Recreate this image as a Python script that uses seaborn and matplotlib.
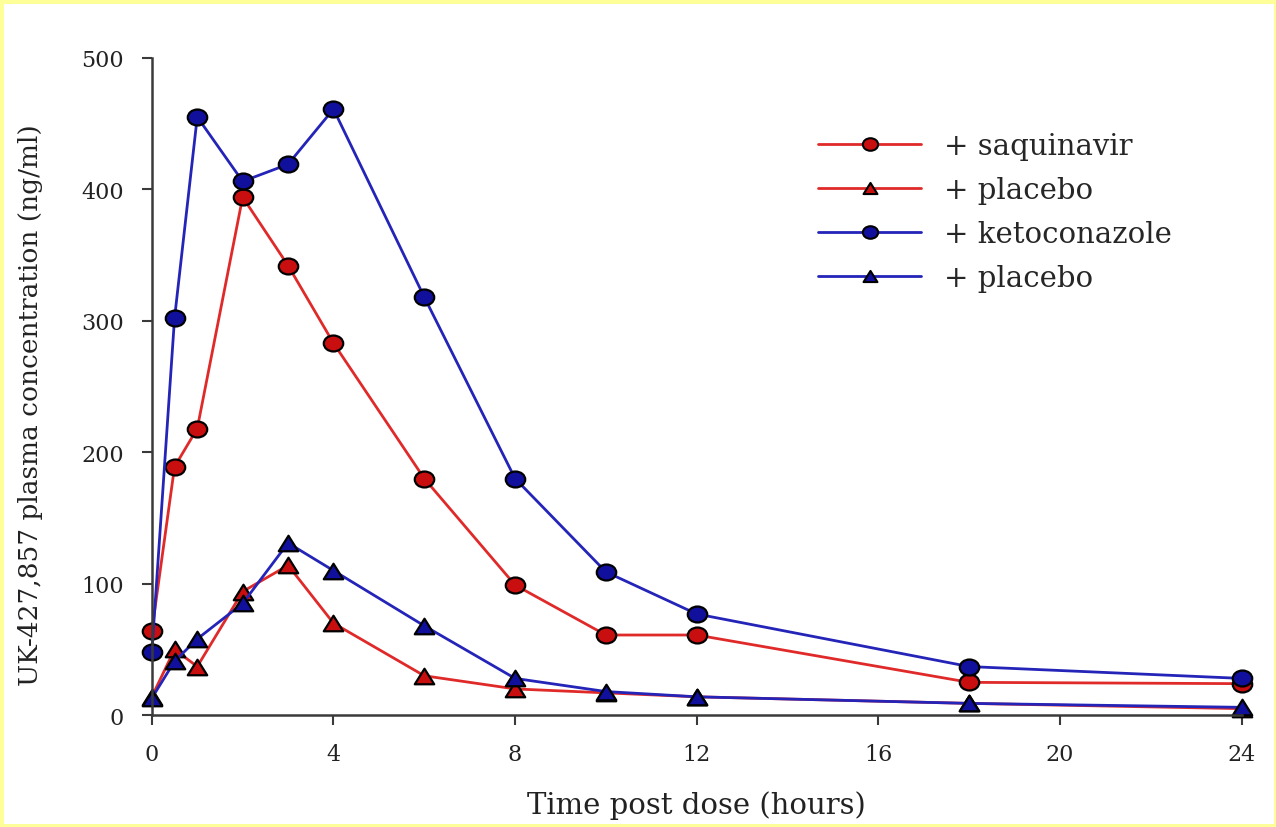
import matplotlib
matplotlib.use("Agg")
import matplotlib.pyplot as plt
import seaborn as sns
import pandas as pd
from matplotlib.lines import Line2D
from matplotlib.patches import Rectangle
from matplotlib.path import Path
from matplotlib.transforms import Affine2D

# time points (hours)
hours = [0, 0.5, 1, 2, 3, 4, 6, 8, 10, 12, 18, 24]

# plasma concentrations (ng/ml)
saquinavir = [64, 189, 218, 394, 342, 283, 180, 99, 61, 61, 25, 24]
placebo_saq = [14, 50, 37, 94, 114, 70, 30, 20, 17, 14, 9, 5]
ketoconazole = [48, 302, 455, 406, 419, 461, 318, 180, 109, 77, 37, 28]
placebo_keto = [13, 41, 58, 85, 131, 110, 68, 28, 18, 14, 9, 6]

labels = ['+ saquinavir', '+ placebo', '+ ketoconazole', '+ placebo ']
series = [saquinavir, placebo_saq, ketoconazole, placebo_keto]
line_colors = ['#e02a2a', '#e02a2a', '#2424b8', '#2424b8']
fill_colors = ['#c80e0e', '#c80e0e', '#10109c', '#10109c']

# slightly wide markers, like the original (stretched) figure
ellipse = Path.unit_circle().transformed(Affine2D().scale(1.0, 0.82))
triangle = Path([(0, 0.8), (-1, -0.8), (1, -0.8), (0, 0.8)],
                [Path.MOVETO, Path.LINETO, Path.LINETO, Path.CLOSEPOLY])
markers = [ellipse, triangle, ellipse, triangle]

sns.set_style("white")
plt.rcParams['font.family'] = ['DejaVu Serif']

fig = plt.figure(figsize=(12.76, 8.28), dpi=100)
fig.patch.set_facecolor('#ffff99')
fig.patches.append(Rectangle((4 / 1276, 3 / 828), 1 - 6 / 1276, 1 - 8 / 828,
                             transform=fig.transFigure, facecolor='white',
                             edgecolor='none', zorder=-10))
ax = fig.add_axes([0.119, 0.135, 0.854, 0.794])
ax.set_facecolor('none')

for vals, lc, fc, mk in zip(series, line_colors, fill_colors, markers):
    df = pd.DataFrame({'hours': hours, 'conc': vals})
    sns.lineplot(data=df, x='hours', y='conc', ax=ax, color=lc, linewidth=2.0,
                 marker=mk, markersize=14, markerfacecolor=fc,
                 markeredgecolor='black', markeredgewidth=1.6, clip_on=False)

ax.set_xlim(0, 24)
ax.set_ylim(0, 500)
ax.set_xticks([0, 4, 8, 12, 16, 20, 24])
ax.set_yticks([0, 100, 200, 300, 400, 500])
for s in ['top', 'right']:
    ax.spines[s].set_visible(False)
for s in ['left', 'bottom']:
    ax.spines[s].set_color('#3a3a3a')
    ax.spines[s].set_linewidth(1.8)
ax.tick_params(axis='both', direction='out', length=7, width=1.5, color='#3a3a3a',
               bottom=True, left=True, labelsize=16, pad=13, labelcolor='#222222')

ax.set_xlabel('Time post dose (hours)', fontsize=21, labelpad=18, color='#222222')
ax.set_ylabel('UK-427,857 plasma concentration (ng/ml)', fontsize=19,
              color='#222222')
ax.yaxis.set_label_coords(-0.100, 0.473)

handles = [Line2D([0], [0], color=lc, linewidth=2.0, marker=mk,
                  markersize=11 if mk is ellipse else 10, markerfacecolor=fc,
                  markeredgecolor='black', markeredgewidth=1.5)
           for lc, fc, mk in zip(line_colors, fill_colors, markers)]
ax.legend(handles, labels, loc='upper left', bbox_to_anchor=(0.630, 0.857),
          bbox_transform=fig.transFigure, frameon=False, fontsize=21,
          handlelength=3.5, handletextpad=0.8, labelspacing=0.55, borderpad=0)

fig.savefig('out.png', dpi=100, facecolor=fig.get_facecolor())
